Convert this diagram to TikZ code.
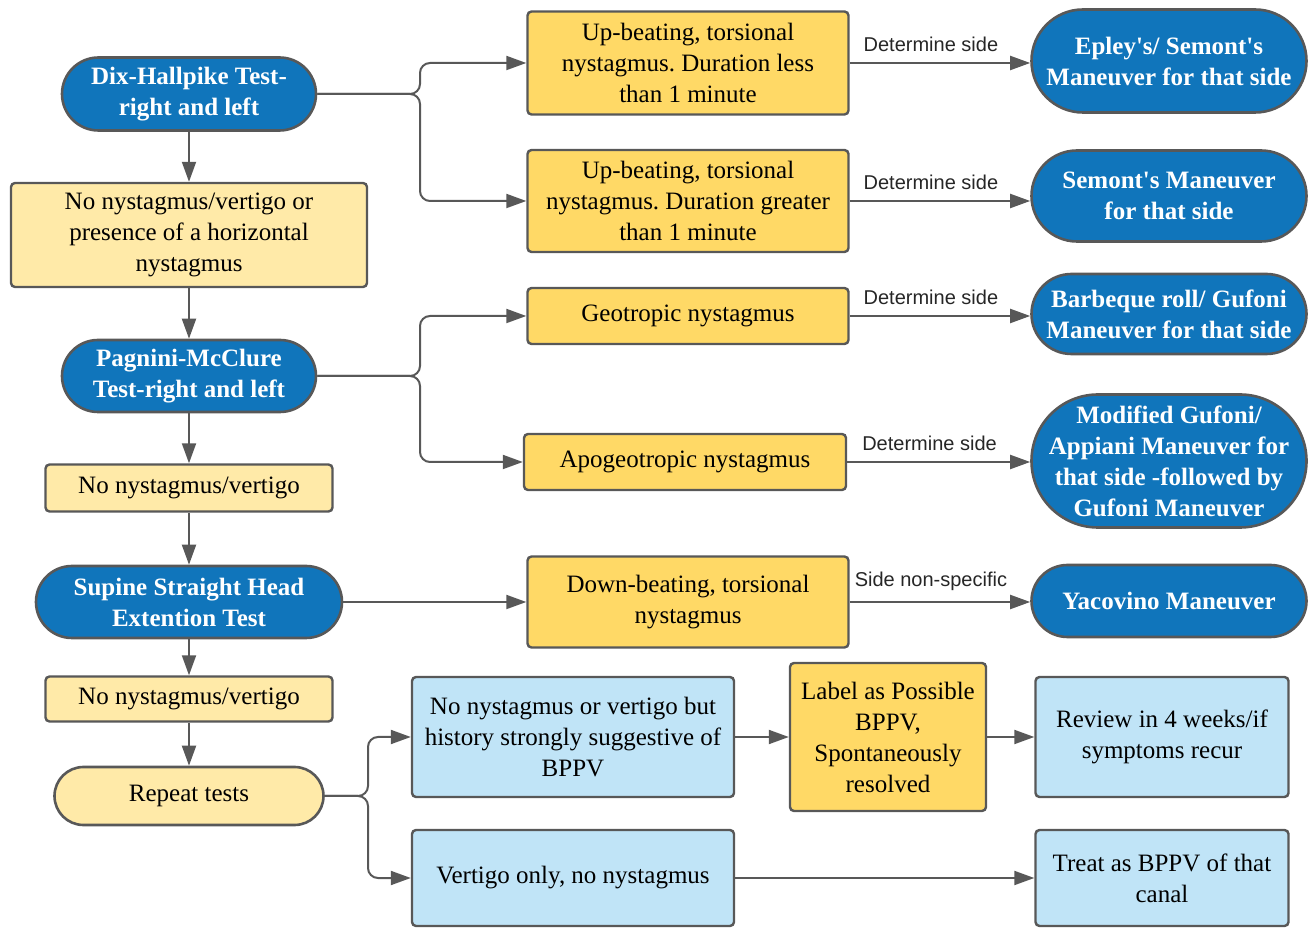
\documentclass[tikz,border=0pt]{standalone}
\usepackage{fontspec}
\setmainfont{Liberation Serif}
\setsansfont{Liberation Sans}
\usetikzlibrary{arrows.meta}
\definecolor{testblue}{RGB}{16,117,187}
\definecolor{goldbox}{RGB}{255,217,102}
\definecolor{paleyel}{RGB}{255,234,168}
\definecolor{paleblue}{RGB}{192,228,247}
\definecolor{edgegray}{RGB}{88,88,88}
\newcommand{\apos}{\textquotesingle}
\tikzset{
  pill/.style={rectangle,rounded corners=#1,draw=edgegray,line width=1.3pt,fill=testblue,text=white,
    font=\bfseries\fontsize{12.5}{15.5}\selectfont,align=center,inner sep=0pt},   % test / maneuver
  result/.style={rectangle,rounded corners=2pt,draw=edgegray,line width=1.2pt,fill=goldbox,
    font=\fontsize{12.5}{15.5}\selectfont,align=center,inner sep=0pt},             % finding
  nofind/.style={result,fill=paleyel},
  hist/.style={result,fill=paleblue},
  manv/.style={pill=#1,minimum width=137.5pt},
  flow/.style={-{Triangle[length=10pt,width=7pt]},edgegray,line width=1pt,rounded corners=5pt},
  side/.style={font=\sffamily\fontsize{10}{12}\selectfont,text=black!85,above=2pt,pos=0.45},
}

\begin{document}
\frenchspacing
\begin{tikzpicture}[x=0.5pt,y=-0.5pt]
  \useasboundingbox (0,0) rectangle (1312,929);
  % left column
  \node[pill=18.25pt,minimum width=127pt,minimum height=36.5pt] (dix) at (189,94) {Dix-Hallpike Test-\\right and left};
  \node[nofind,minimum width=178pt,minimum height=52pt] (nohor) at (189,235) {No nystagmus/vertigo or\\presence of a horizontal\\nystagmus};
  \node[pill=18pt,minimum width=127pt,minimum height=36pt] (pag) at (189,376) {Pagnini-McClure\\Test-right and left};
  \node[nofind,minimum width=143.5pt,minimum height=23.5pt] (nonysa) at (189,488) {No nystagmus/vertigo};
  \node[pill=18pt,minimum width=153pt,minimum height=36pt] (sup) at (189,602) {Supine Straight Head\\Extention Test};
  \node[nofind,minimum width=143.5pt,minimum height=22.5pt] (nonysb) at (189,699) {No nystagmus/vertigo};
  \node[pill=14.5pt,fill=paleyel,text=black,font=\fontsize{12.5}{15.5}\selectfont,
    minimum width=134.5pt,minimum height=29pt] (rep) at (189,796) {Repeat tests};
  % findings
  \node[result,minimum width=160.5pt,minimum height=51.5pt] (upless) at (688,63) {Up-beating, torsional\\nystagmus. Duration less\\than 1 minute};
  \node[result,minimum width=160.5pt,minimum height=51pt] (upmore) at (688,201) {Up-beating, torsional\\nystagmus. Duration greater\\than 1 minute};
  \node[result,minimum width=160.5pt,minimum height=28pt] (geo) at (688,316) {Geotropic nystagmus};
  \node[result,minimum width=161pt,minimum height=28pt] (apo) at (685,462) {Apogeotropic nystagmus};
  \node[result,minimum width=160.5pt,minimum height=45.5pt] (down) at (688,602) {Down-beating, torsional\\nystagmus};
  % maneuvers
  \node[manv=25.75pt,minimum height=51.5pt] (epley) at (1169,61) {Epley\apos s/ Semont\apos s\\Maneuver for that side};
  \node[manv=22.75pt,minimum height=45.5pt] (semont) at (1169,196) {Semont\apos s Maneuver\\for that side};
  \node[manv=20pt,minimum height=40pt] (bbq) at (1169,314) {Barbeque roll/ Gufoni\\Maneuver for that side};
  \node[manv=33.25pt,minimum height=66.5pt] (modguf) at (1169,461) {Modified Gufoni/\\Appiani Maneuver for\\that side -followed by\\Gufoni Maneuver};
  \node[manv=18pt,minimum height=36pt] (yaco) at (1169,601) {Yacovino Maneuver};
  % repeat branch
  \node[hist,minimum width=161pt,minimum height=60pt] (nobut) at (573,737) {No nystagmus or vertigo but\\history strongly suggestive of\\BPPV};
  \node[result,minimum width=98pt,minimum height=74pt] (possible) at (888,737) {Label as Possible\\BPPV,\\Spontaneously\\resolved};
  \node[hist,minimum width=126.5pt,minimum height=60pt] (review) at (1162,737) {Review in 4 weeks/if\\symptoms recur};
  \node[hist,minimum width=161pt,minimum height=48pt] (vert) at (573,878) {Vertigo only, no nystagmus};
  \node[hist,minimum width=126.5pt,minimum height=48pt] (canal) at (1162,878) {Treat as BPPV of that\\canal};

  \coordinate (dixsplit) at (420,94);
  \coordinate (pagsplit) at (420,376);
  \coordinate (repsplit) at (368,796);

  \foreach \a/\b in {dix/nohor,nohor/pag,pag/nonysa,nonysa/sup,sup/nonysb,nonysb/rep}
    \draw[flow] (\a) -- (\b);
  \draw[flow] (dix.east) -- (dixsplit) |- (upless.west);
  \draw[flow] (dix.east) -- (dixsplit) |- (upmore.west);
  \draw[flow] (pag.east) -- (pagsplit) |- (geo.west);
  \draw[flow] (pag.east) -- (pagsplit) |- (apo.west);
  \draw[flow] (sup) -- (down);
  \foreach \a/\b in {upless/epley,upmore/semont,geo/bbq,apo/modguf}
    \draw[flow] (\a.east) -- (\a.east -| \b.west) node[side] {Determine side};
  \draw[flow] (down.east) -- (down.east -| yaco.west) node[side] {Side non-specific};
  \draw[flow] (rep.east) -- (repsplit) |- (nobut.west);
  \draw[flow] (rep.east) -- (repsplit) |- (vert.west);
  \draw[flow] (nobut) -- (possible);
  \draw[flow] (possible) -- (review);
  \draw[flow] (vert) -- (canal);
\end{tikzpicture}
\end{document}
